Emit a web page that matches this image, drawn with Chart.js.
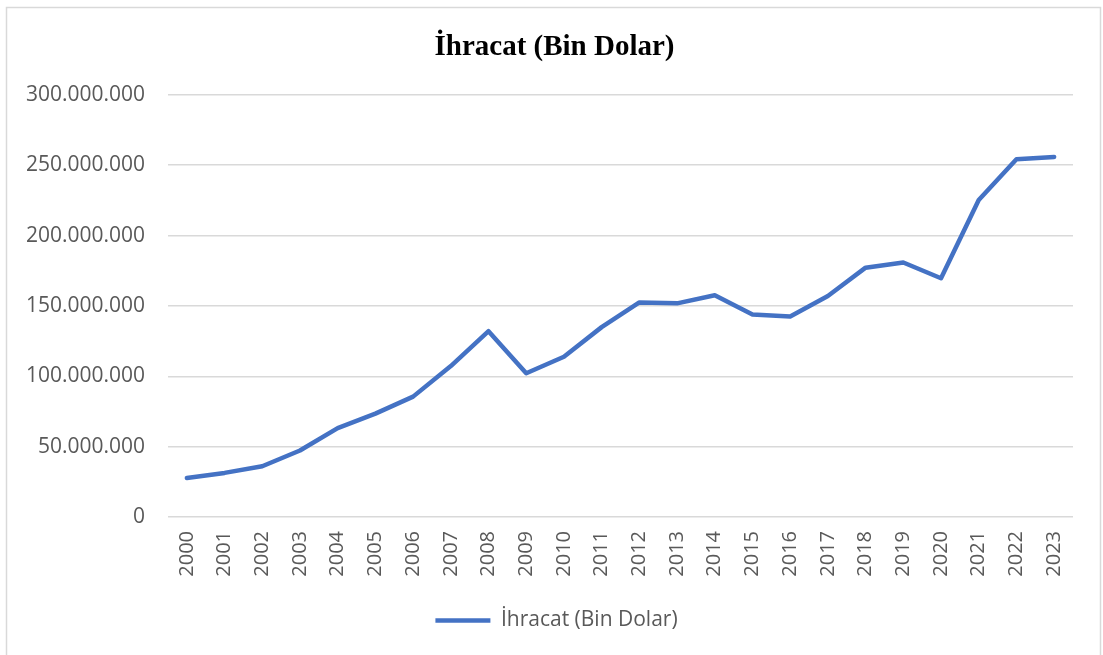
<!DOCTYPE html>
<html>
<head>
<meta charset="utf-8">
<script src="https://cdn.jsdelivr.net/npm/chart.js@4"></script>
<style>
  html, body { margin: 0; padding: 0; background: #ffffff; }
  #wrap { position: relative; width: 1103px; height: 655px; }
</style>
</head>
<body>
<div id="wrap"><canvas id="c" width="1103" height="655"></canvas></div>
<script>
const years = ['2000','2001','2002','2003','2004','2005','2006','2007','2008','2009','2010','2011','2012','2013','2014','2015','2016','2017','2018','2019','2020','2021','2022','2023'];
const exportsThousandUSD = [27775, 31334, 36059, 47253, 63167, 73476, 85535, 107272, 132027, 102143, 113883, 134907, 152462, 151803, 157610, 143839, 142530, 157000, 177169, 180833, 169638, 225214, 254200, 255800].map(v => v * 1000);
const yTicks = [0, 50000000, 100000000, 150000000, 200000000, 250000000, 300000000];
const titleText = 'İhracat (Bin Dolar)';
const seriesLabel = 'İhracat (Bin Dolar)';

const fmt = v => String(Math.round(v)).replace(/\B(?=(\d{3})+(?!\d))/g, '.');

const borderPlugin = {
  id: 'outerBorder',
  beforeDraw(chart) {
    const ctx = chart.ctx;
    ctx.save();
    ctx.fillStyle = '#ffffff';
    ctx.fillRect(0, 0, chart.width, chart.height);
    ctx.strokeStyle = '#d9d9d9';
    ctx.lineWidth = 1.5;
    ctx.strokeRect(6.5, 7.5, 1094, 700);
    ctx.restore();
    // centre title and legend over the whole chart frame, like the reference
    if (chart.titleBlock) chart.titleBlock.left = 36;
    if (chart.legend) chart.legend.left = 40;
  }
};

new Chart(document.getElementById('c'), {
  type: 'line',
  data: {
    labels: years,
    datasets: [{
      label: seriesLabel,
      data: exportsThousandUSD,
      borderColor: '#4472C4',
      backgroundColor: '#4472C4',
      borderWidth: 4.5,
      pointRadius: 0,
      pointHoverRadius: 0,
      tension: 0,
      borderCapStyle: 'round',
      borderJoinStyle: 'round',
      pointStyle: 'line'
    }]
  },
  options: {
    responsive: false,
    animation: false,
    devicePixelRatio: 1,
    layout: { padding: { left: 0, right: 30, top: 0, bottom: 14 } },
    plugins: {
      title: {
        display: true,
        text: titleText,
        color: '#000000',
        font: { family: 'Liberation Serif', size: 29, weight: 'bold' },
        padding: { top: 30, bottom: 30 }
      },
      legend: {
        display: true,
        position: 'bottom',
        labels: {
          usePointStyle: true,
          pointStyle: 'line',
          pointStyleWidth: 55,
          boxWidth: 55,
          color: '#595959',
          font: { family: 'Open Sans', size: 21 },
          padding: 10
        }
      },
      tooltip: { enabled: false }
    },
    scales: {
      x: {
        type: 'category',
        offset: true,
        grid: { display: false, drawTicks: false },
        border: { display: false },
        ticks: {
          autoSkip: false,
          maxRotation: 90,
          minRotation: 90,
          padding: 14,
          color: '#595959',
          font: { family: 'Open Sans', size: 20 }
        },
        afterFit(scale) { scale.height = 83; }
      },
      y: {
        min: 0,
        max: 300000000,
        afterBuildTicks(scale) { scale.ticks = yTicks.map(v => ({ value: v })); },
        grid: { color: '#d9d9d9', lineWidth: 1.5, drawTicks: false },
        border: { display: false },
        ticks: {
          padding: 23,
          color: '#595959',
          font: { family: 'Open Sans', size: 21 },
          callback: v => fmt(v)
        },
        afterFit(scale) { scale.width = 168; }
      }
    }
  },
  plugins: [borderPlugin]
});
</script>
</body>
</html>
